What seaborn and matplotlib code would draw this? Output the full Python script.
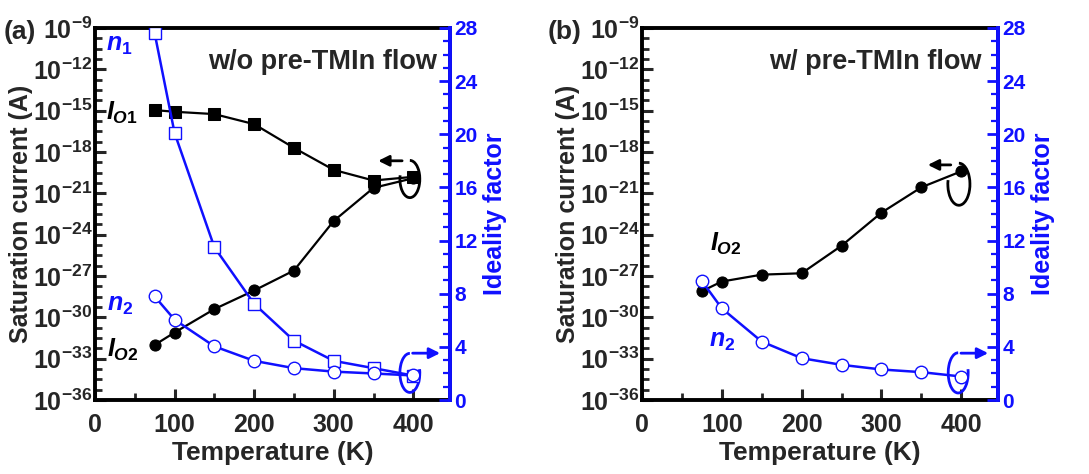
import numpy as np
import pandas as pd
import matplotlib
matplotlib.use("Agg")
import matplotlib.pyplot as plt
import matplotlib.ticker as mticker
from matplotlib.patches import Arc, FancyArrowPatch
import seaborn as sns

# Temperatures (K)
temps = [75, 100, 150, 200, 250, 300, 350, 400]

# Panel (a): w/o pre-TMIn flow  (log10 of saturation current)
a_log_io1 = [-14.96, -15.08, -15.25, -15.98, -17.7, -19.3, -20.07, -19.8]
a_log_io2 = [-32.0, -31.1, -29.4, -28.05, -26.6, -23.0, -20.6, -19.9]
a_n1 = [27.6, 20.1, 11.5, 7.24, 4.47, 2.95, 2.4, 1.84]
a_n2 = [7.8, 6.05, 4.04, 2.95, 2.4, 2.14, 2.0, 1.85]

# Panel (b): w/ pre-TMIn flow
b_log_io2 = [-28.1, -27.4, -26.9, -26.8, -24.8, -22.4, -20.56, -19.4]
b_n2 = [8.96, 6.9, 4.4, 3.15, 2.65, 2.3, 2.1, 1.77]

BLUE = "#1010ff"

sns.set_style("ticks")
plt.rcParams['font.family'] = ['Liberation Sans', 'DejaVu Sans']
plt.rcParams['font.weight'] = 'bold'
plt.rcParams['mathtext.fontset'] = 'custom'
plt.rcParams['mathtext.rm'] = 'Liberation Sans:bold'
plt.rcParams['mathtext.bf'] = 'Liberation Sans:bold'
plt.rcParams['mathtext.it'] = 'Liberation Sans:bold:italic'

fig = plt.figure(figsize=(10.89, 4.74), dpi=100)
ax_a = fig.add_axes([0.0872, 0.156, 0.326, 0.785])
ax_b = fig.add_axes([0.5895, 0.156, 0.327, 0.785])


def log_fmt(v, pos):
    e = int(round(np.log10(v)))
    return r'$\mathbf{10^{%d}}$' % e


def style_axes(ax, ax2):
    ax.set_yscale('log')
    ax.set_ylim(1e-36, 1e-9)
    ax.set_xlim(0, 446)
    ax.yaxis.set_major_locator(mticker.FixedLocator([10.0 ** e for e in range(-36, -8, 3)]))
    ax.yaxis.set_minor_locator(mticker.FixedLocator(
        [10.0 ** (-36 + 0.75 * k) for k in range(37)]))
    ax.yaxis.set_major_formatter(mticker.FuncFormatter(log_fmt))
    ax.yaxis.set_minor_formatter(mticker.NullFormatter())
    ax.xaxis.set_major_locator(mticker.MultipleLocator(100))
    ax.xaxis.set_minor_locator(mticker.MultipleLocator(50))
    ax.tick_params(axis='both', which='major', direction='in', length=8, width=2.2,
                   labelsize=18)
    ax.tick_params(axis='both', which='minor', direction='in', length=5, width=2)
    ax.tick_params(axis='y', which='major', pad=2)
    ax.tick_params(axis='x', which='major', pad=9)
    for s in ax.spines.values():
        s.set_linewidth(2.8)
        s.set_color('black')
    ax.set_xlabel('Temperature (K)', fontsize=19, fontweight='bold', labelpad=3)
    ax.set_ylabel('Saturation current (A)', fontsize=18, fontweight='bold', labelpad=0)

    ax2.set_ylim(0, 28)
    ax2.yaxis.set_major_locator(mticker.MultipleLocator(4))
    ax2.yaxis.set_minor_locator(mticker.MultipleLocator(1))
    ax2.tick_params(axis='y', which='major', direction='in', length=8, width=2,
                    labelsize=15, colors=BLUE, pad=3)
    ax2.tick_params(axis='y', which='minor', direction='in', length=5, width=1.6,
                    colors=BLUE)
    ax2.spines['right'].set_color(BLUE)
    ax2.spines['right'].set_linewidth(2.8)
    for k in ['left', 'top', 'bottom']:
        ax2.spines[k].set_visible(False)
    ax2.set_ylabel('Ideality factor', fontsize=18, fontweight='bold', color=BLUE,
                   labelpad=4)
    for lab in ax.get_xticklabels() + ax2.get_yticklabels():
        lab.set_fontweight('bold')


def circ_arrow(ax, cx, cy, w, h, arrow_y, x0, x1, color, theta1, theta2):
    arc = Arc((cx, cy), w, h, theta1=theta1, theta2=theta2, transform=ax.transAxes,
              color=color, lw=2, zorder=5)
    ax.add_patch(arc)
    ax.add_patch(FancyArrowPatch((x0, arrow_y), (x1, arrow_y), transform=ax.transAxes,
                                 arrowstyle='-|>', mutation_scale=16, color=color,
                                 lw=2, zorder=5))


# ---------- panel (a) ----------
df_a = pd.DataFrame({'T': temps, 'io1': [10.0 ** v for v in a_log_io1],
                     'io2': [10.0 ** v for v in a_log_io2], 'n1': a_n1, 'n2': a_n2})
ax_a2 = ax_a.twinx()
sns.lineplot(data=df_a, x='T', y='io1', ax=ax_a, color='black', lw=1.6, marker='s',
             markersize=8.5, markerfacecolor='black', markeredgecolor='black', zorder=3)
sns.lineplot(data=df_a, x='T', y='io2', ax=ax_a, color='black', lw=1.6, marker='o',
             markersize=8, markerfacecolor='black', markeredgecolor='black', zorder=3)
sns.lineplot(data=df_a, x='T', y='n1', ax=ax_a2, color=BLUE, lw=1.8, marker='s',
             markersize=9, markerfacecolor='white', markeredgecolor=BLUE,
             markeredgewidth=1, zorder=3)
sns.lineplot(data=df_a, x='T', y='n2', ax=ax_a2, color=BLUE, lw=1.8, marker='o',
             markersize=9, markerfacecolor='white', markeredgecolor=BLUE,
             markeredgewidth=1, zorder=3)
style_axes(ax_a, ax_a2)
ax_a2.set_xlim(0, 446)

ax_a.text(0.965, 0.909, 'w/o pre-TMIn flow', transform=ax_a.transAxes, ha='right',
          va='center', fontsize=19.5, fontweight='bold')
ax_a.text(0.068, 0.955, r'$n_1$', transform=ax_a.transAxes, ha='center', va='center',
          fontsize=18, color=BLUE)
ax_a.text(0.077, 0.773, r'$I_{O1}$', transform=ax_a.transAxes, ha='center', va='center',
          fontsize=18, color='black')
ax_a.text(0.072, 0.255, r'$n_2$', transform=ax_a.transAxes, ha='center', va='center',
          fontsize=18, color=BLUE)
ax_a.text(0.077, 0.135, r'$I_{O2}$', transform=ax_a.transAxes, ha='center', va='center',
          fontsize=18, color='black')
circ_arrow(ax_a, 0.887, 0.594, 0.056, 0.1, 0.643, 0.873, 0.79, 'black', 160, 450)
circ_arrow(ax_a, 0.887, 0.073, 0.056, 0.105, 0.126, 0.887, 0.98, BLUE, 90, 380)

# ---------- panel (b) ----------
df_b = pd.DataFrame({'T': temps, 'io2': [10.0 ** v for v in b_log_io2], 'n2': b_n2})
ax_b2 = ax_b.twinx()
sns.lineplot(data=df_b, x='T', y='io2', ax=ax_b, color='black', lw=1.6, marker='o',
             markersize=8, markerfacecolor='black', markeredgecolor='black', zorder=3)
sns.lineplot(data=df_b, x='T', y='n2', ax=ax_b2, color=BLUE, lw=1.8, marker='o',
             markersize=9, markerfacecolor='white', markeredgecolor=BLUE,
             markeredgewidth=1, zorder=3)
style_axes(ax_b, ax_b2)
ax_b2.set_xlim(0, 446)

ax_b.text(0.955, 0.909, 'w/ pre-TMIn flow', transform=ax_b.transAxes, ha='right',
          va='center', fontsize=19.5, fontweight='bold')
ax_b.text(0.235, 0.42, r'$I_{O2}$', transform=ax_b.transAxes, ha='center', va='center',
          fontsize=18, color='black')
ax_b.text(0.225, 0.16, r'$n_2$', transform=ax_b.transAxes, ha='center', va='center',
          fontsize=18, color=BLUE)
circ_arrow(ax_b, 0.89, 0.58, 0.062, 0.113, 0.632, 0.875, 0.795, 'black', 160, 450)
circ_arrow(ax_b, 0.888, 0.073, 0.056, 0.108, 0.126, 0.888, 0.98, BLUE, 90, 380)

for ax in [ax_a, ax_b, ax_a2, ax_b2]:
    if ax.get_legend() is not None:
        ax.get_legend().remove()

fig.text(0.003, 0.932, '(a)', fontsize=19, fontweight='bold', va='center', ha='left')
fig.text(0.503, 0.932, '(b)', fontsize=19, fontweight='bold', va='center', ha='left')

fig.savefig('out.png', dpi=100)
